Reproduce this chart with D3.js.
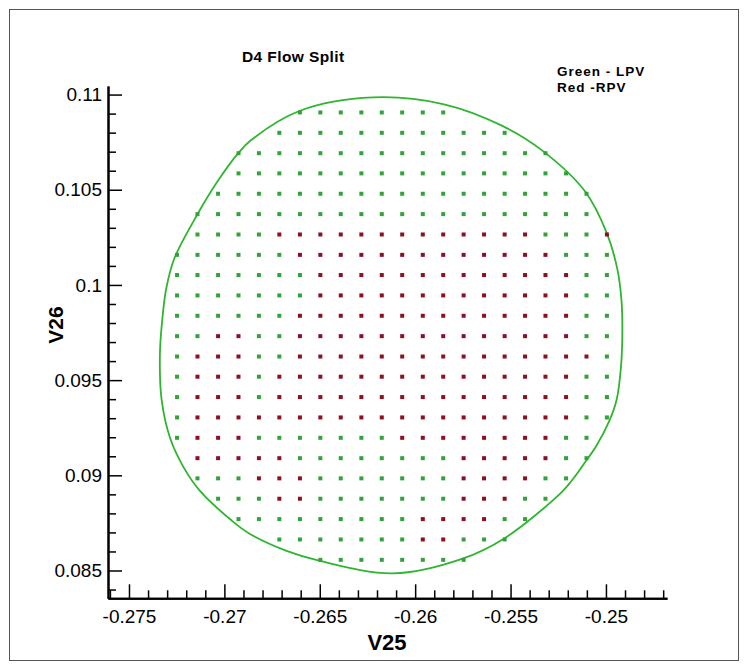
<!DOCTYPE html>
<html><head><meta charset="utf-8">
<script src="https://cdn.jsdelivr.net/npm/d3@7/dist/d3.min.js"></script>
<style>body{margin:0;background:#fff}svg{display:block}</style>
</head><body>
<svg id="c" width="747" height="669"></svg>
<script>
// ---- data ----
const columnX = [-0.27248,-0.27141,-0.27033,-0.26926,-0.26819,-0.26712,-0.26604,-0.26497,-0.26390,-0.26282,-0.26175,
                 -0.26068,-0.25960,-0.25853,-0.25746,-0.25639,-0.25531,-0.25424,-0.25317,-0.25209,-0.25102,-0.24995];
const rowY = [0.10906,0.10799,0.10692,0.10586,0.10479,0.10372,0.10265,0.10158,0.10052,0.09945,0.09838,0.09731,
              0.09624,0.09518,0.09411,0.09304,0.09197,0.09090,0.08984,0.08877,0.08770,0.08663,0.08556];
// G = LPV (green), R = RPV (red), . = no point
const rowColours = [
  "......GGGGGGGG........",
  ".....GGGGGGGGGGGG.....",
  "...GGGGGGGGGGGGGGGG...",
  "...GGGGGGGGGGGGGGGGG..",
  "..GGGGGGGGGGGGGGGGGGG.",
  ".GGGGGGGGGGGGGGGGGGGG.",
  ".GGGGRRRRRRRRRRRRRGGGR",
  "GGGGGGRRRRRRRRRRRRRGGG",
  "GGGGGGGRRRRRRRRRRRRRGG",
  "GGGGGGGRRRRRRRRRRRRRGG",
  "GGGGGGRRRRRRRRRRRRRRGG",
  "GGRRGGRRRRRRRRRRRRRRGG",
  "GRRRGGRRRRRRRRRRRRRRRG",
  "GRRRGRRRRRRRRRRRRRRRGG",
  "GRRRGRRRRRRRRRRRRRRRGG",
  "GRRRRRRRRRRRRRRRRRRRGG",
  "GRRRGGGGGGGRRRRRRRRGG.",
  ".RRRRRGGGGGGGGRRRRRGG.",
  ".GGGRRRGGGGGGGRRRRGG..",
  "..GGGRRGGGGGGGRRRGG...",
  "...GGGGGGGGGRRRRGG....",
  ".....GGGGGGGRRGGG.....",
  ".......GGGGGGGG......."
];
const outlineX = [-0.26221,-0.25854,-0.25540,-0.25330,-0.25110,-0.24995,-0.24940,-0.24919,-0.24914,-0.24921,
                  -0.24944,-0.24984,-0.25053,-0.25100,-0.25184,-0.25241,-0.25529,-0.25755,-0.26115,-0.26499,
                  -0.26674,-0.26866,-0.26960,-0.27128,-0.27212,-0.27285,-0.27329,-0.27338,-0.27324,-0.27304,
                  -0.27262,-0.27144,-0.27039,-0.26924,-0.26861,-0.26604];
const outlineY = [0.10985,0.10950,0.10834,0.10703,0.10492,0.10271,0.10082,0.09924,0.09755,0.09573,
                  0.09397,0.09282,0.09150,0.09082,0.08966,0.08903,0.08671,0.08561,0.08485,0.08550,
                  0.08603,0.08692,0.08761,0.08918,0.09039,0.09197,0.09397,0.09634,0.09834,0.09985,
                  0.10140,0.10366,0.10539,0.10696,0.10760,0.10915];
const xTicks = [-0.275,-0.27,-0.265,-0.26,-0.255,-0.25];
const xTickLabels = ["-0.275","-0.27","-0.265","-0.26","-0.255","-0.25"];
const yTicks = [0.085,0.09,0.095,0.1,0.105,0.11];
const yTickLabels = ["0.085","0.09","0.095","0.1","0.105","0.11"];
const xMinorTicks = [-0.276,-0.274,-0.273,-0.272,-0.271,-0.269,-0.268,-0.267,-0.266,-0.264,-0.263,-0.262,-0.261,
                     -0.259,-0.258,-0.257,-0.256,-0.254,-0.253,-0.252,-0.251,-0.249,-0.248,-0.247];
const yMinorTicks = [0.084,0.086,0.087,0.088,0.089,0.091,0.092,0.093,0.094,0.096,0.097,0.098,0.099,
                     0.101,0.102,0.103,0.104,0.106,0.107,0.108,0.109];
const titleText = "D4 Flow Split";
const legendLines = ["Green - LPV", "Red -RPV"];
const xTitle = "V25", yTitle = "V26";

// ---- drawing ----
const svg = d3.select("#c");
const FONT = "'Liberation Sans', Arial, Helvetica, sans-serif";
svg.append("rect").attr("width",747).attr("height",669).attr("fill","#fff");
svg.append("rect").attr("x",9.5).attr("y",9.5).attr("width",729).attr("height",651)
   .attr("fill","none").attr("stroke","#555").attr("stroke-width",1);

const x = d3.scaleLinear().domain([-0.2761, -0.2468]).range([108, 667]);
const y = d3.scaleLinear().domain([0.08354, 0.11045]).range([598.3, 86]);

// outline
const line = d3.line().x(d => x(d[0])).y(d => y(d[1])).curve(d3.curveCatmullRomClosed.alpha(0.5));
svg.append("path").datum(outlineX.map((v,i)=>[v, outlineY[i]]))
   .attr("d", line).attr("fill","none").attr("stroke","#2fb52f").attr("stroke-width",1.8);

// points
const pts = [];
rowColours.forEach((row, r) => {
  for (let c = 0; c < row.length; c++) {
    const k = row[c];
    if (k === "G" || k === "R") pts.push({x: columnX[c], y: rowY[r], k});
  }
});
svg.append("g").selectAll("rect").data(pts).join("rect")
   .attr("x", d => x(d.x) - 2).attr("y", d => y(d.y) - 2)
   .attr("width", 4).attr("height", 4)
   .attr("fill", d => d.k === "G" ? "#33a23a" : "#8c0f22");

// axes
const ax = svg.append("g").attr("transform","translate(0,598.3)");
ax.call(d3.axisBottom(x).tickValues(xMinorTicks).tickSizeInner(-8).tickSizeOuter(0).tickFormat(""));
const ax2 = svg.append("g").attr("transform","translate(0,598.3)");
ax2.call(d3.axisBottom(x).tickValues(xTicks).tickSizeInner(-14).tickSizeOuter(0).tickPadding(11)
     .tickFormat((d,i) => xTickLabels[i]));
const ay = svg.append("g").attr("transform","translate(108,0)");
ay.call(d3.axisLeft(y).tickValues(yMinorTicks).tickSizeInner(-8).tickSizeOuter(0).tickFormat(""));
const ay2 = svg.append("g").attr("transform","translate(108,0)");
ay2.call(d3.axisLeft(y).tickValues(yTicks).tickSizeInner(-14).tickSizeOuter(0).tickPadding(6)
     .tickFormat((d,i) => yTickLabels[i]));
svg.selectAll(".domain").attr("stroke","#000").attr("stroke-width",2);
svg.selectAll(".tick line").attr("stroke","#000").attr("stroke-width",1.5);
svg.selectAll(".tick text").attr("font-family",FONT).attr("font-size",19).attr("fill","#000");

// titles
svg.append("text").attr("x",387).attr("y",650).attr("text-anchor","middle")
   .attr("font-family",FONT).attr("font-weight","bold").attr("font-size",22).text(xTitle);
svg.append("text").attr("transform","translate(63,325) rotate(-90)").attr("text-anchor","middle")
   .attr("font-family",FONT).attr("font-weight","bold").attr("font-size",21).text(yTitle);
svg.append("text").attr("x",242).attr("y",62).attr("letter-spacing",0.4)
   .attr("font-family",FONT).attr("font-weight","bold").attr("font-size",15.5).text(titleText);
legendLines.forEach((t,i) => {
  svg.append("text").attr("x",557).attr("y",76 + i*16).attr("letter-spacing",1.0)
     .attr("font-family",FONT).attr("font-weight","bold").attr("font-size",13.5).text(t);
});
</script>
</body></html>
